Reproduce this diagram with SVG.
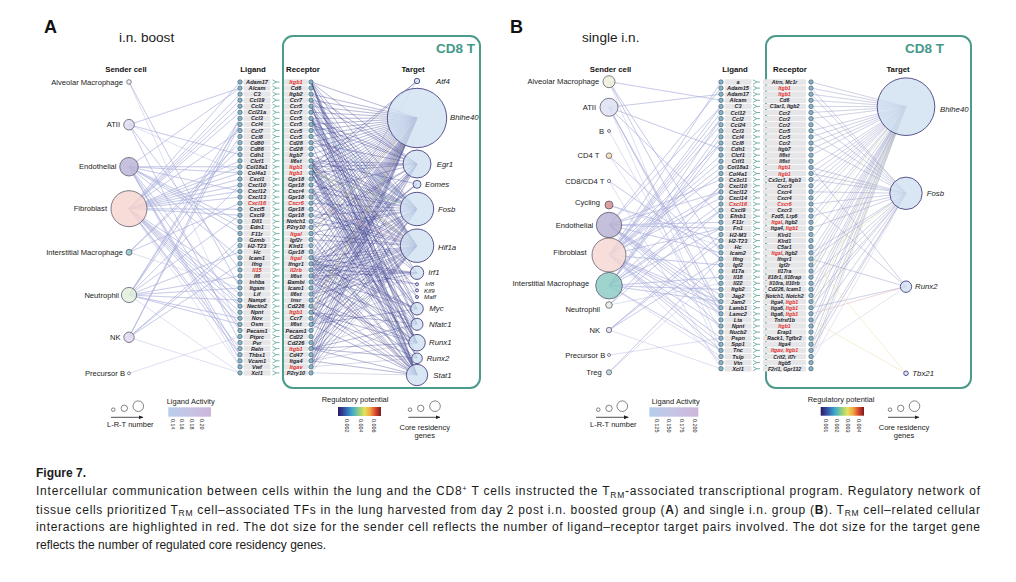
<svg xmlns="http://www.w3.org/2000/svg" xmlns:xlink="http://www.w3.org/1999/xlink" width="1016" height="582" viewBox="0 0 1016 582">
<style>
text{font-family:"Liberation Sans",Arial,sans-serif}
.sl{font-size:7.6px;fill:#222;text-anchor:end}
.hd{font-size:7.8px;font-weight:bold;fill:#111;text-anchor:middle}
.lg{font-size:5.6px;font-style:italic;font-weight:bold;fill:#1c1c2a;text-anchor:middle}
.rb{font-size:5.2px}
.r{fill:#e3302a}
.tg{font-size:7.8px;font-style:italic;fill:#222}
.ts{font-size:6.2px}
.sn{stroke:#4d4a5e;stroke-width:.7;fill-opacity:.85}
.tn{fill:#cfe0f1;fill-opacity:.8;stroke:#4a4480;stroke-width:.9}
.dot{fill:#87b4c9;stroke:#33505f;stroke-width:.6}
.band{fill:#e6e6e8}
.gl{fill:none;stroke:#3c9482;stroke-width:.7}
.box{fill:none;stroke:#4c9b8c;stroke-width:2}
.cd8{font-size:13.5px;font-weight:bold;fill:#44998a;text-anchor:end}
.ttl{font-size:13.6px;fill:#1a1a1a}
.pl{font-size:18px;font-weight:bold;fill:#111}
.lgd{font-size:7.5px;fill:#1a1a1a}
.tk{font-size:5.4px;fill:#222}
.lc{fill:none;stroke:#333;stroke-width:.6}
.se{fill:none;stroke:#a8addb;stroke-opacity:.55;stroke-width:.7;stroke-linejoin:round}
.ea{fill:none;stroke:#3e418f;stroke-opacity:.34;stroke-width:.6;stroke-linejoin:round}
.eb{fill:none;stroke:#9599c8;stroke-opacity:.42;stroke-width:.6;stroke-linejoin:round}
.cap{font-size:12px;fill:#1b1b1b}
</style>
<defs>
<linearGradient id="la" x1="0" x2="1" y1="0" y2="0"><stop offset="0" stop-color="#b7cdec"/><stop offset=".5" stop-color="#c6c4e4"/><stop offset="1" stop-color="#ccb6da"/></linearGradient>
<linearGradient id="rp" x1="0" x2="1" y1="0" y2="0"><stop offset="0" stop-color="#2a1a66"/><stop offset=".15" stop-color="#3553a5"/><stop offset=".32" stop-color="#3aa6cf"/><stop offset=".5" stop-color="#98d27c"/><stop offset=".62" stop-color="#e5e25a"/><stop offset=".75" stop-color="#f2a444"/><stop offset=".88" stop-color="#d8432c"/><stop offset="1" stop-color="#7b1a1e"/></linearGradient>
<marker id="ah" viewBox="0 0 6 5" refX="5.5" refY="2.5" markerWidth="5" markerHeight="4" markerUnits="userSpaceOnUse" orient="auto"><path d="M0 0L6 2.5L0 5z" fill="#222"/></marker>
<g id="ra">
<circle cx="240" cy="0" r="2.2" class="dot"/>
<rect x="243.5" y="-2.7" width="27" height="5.4" rx="1.2" class="band"/>
<path d="M272.5 -2.2L276.3 0L272.5 2.2M276.3 0H279.5" class="gl"/>
<rect x="284" y="-2.7" width="24" height="5.4" rx="1.2" class="band"/>
<circle cx="311" cy="0" r="2.2" class="dot"/>
</g>
<g id="rb">
<circle cx="721" cy="0" r="2.2" class="dot"/>
<rect x="724.5" y="-2.7" width="27" height="5.4" rx="1.2" class="band"/>
<path d="M753 -2.2L756.8 0L753 2.2M756.8 0H760" class="gl"/>
<rect x="763" y="-2.7" width="43" height="5.4" rx="1.2" class="band"/>
<circle cx="811" cy="0" r="2.2" class="dot"/>
</g>
</defs>
<rect width="1016" height="582" fill="#fff"/>

<!-- titles -->
<text class="pl" x="44" y="32.5">A</text>
<text class="ttl" x="119" y="41.5">i.n. boost</text>
<text class="pl" x="510" y="32.5">B</text>
<text class="ttl" x="582" y="41.5">single i.n.</text>

<!-- CD8 T boxes -->
<g id="boxA"><rect class="box" x="283" y="36" width="197" height="352" rx="10"/><text class="cd8" x="475" y="53">CD8 T</text></g>
<g id="boxB"><rect class="box" x="766" y="36" width="205" height="352" rx="10"/><text class="cd8" x="944" y="53">CD8 T</text></g>

<!-- headers -->
<text class="hd" x="126" y="72">Sender cell</text>
<text class="hd" x="253" y="72">Ligand</text>
<text class="hd" x="303" y="72">Receptor</text>
<text class="hd" x="413" y="72">Target</text>
<text class="hd" x="610.5" y="72">Sender cell</text>
<text class="hd" x="735" y="72">Ligand</text>
<text class="hd" x="790" y="72">Receptor</text>
<text class="hd" x="898" y="72">Target</text>

<!-- connectors -->
<g id="connectors">
<g id="a-sender-edges">
<path class="se" d="M129 82L240 288 129 82 240 330.5"/>
<path class="se" d="M129 124.7L240 88.1 129 124.7 240 154.7 129 124.7 240 269.9 129 124.7 240 342.6 129 124.7 240 172.9"/>
<path class="se" d="M129 166.7L240 88.1 129 166.7 240 166.8 129 166.7 240 172.9 129 166.7 240 191.1 129 166.7 240 221.4 129 166.7 240 227.4 129 166.7 240 233.5 129 166.7 240 257.7 129 166.7 240 306.2 129 166.7 240 330.5 129 166.7 240 354.7 129 166.7 240 360.8 129 166.7 240 366.8"/>
<path class="se" d="M129 208.7L240 82 129 208.7 240 94.1 129 208.7 240 100.2 129 208.7 240 106.2 129 208.7 240 112.3 129 208.7 240 130.5 129 208.7 240 160.8 129 208.7 240 166.8 129 208.7 240 172.9 129 208.7 240 179 129 208.7 240 185 129 208.7 240 191.1 129 208.7 240 197.1 129 208.7 240 209.3 129 208.7 240 215.3 129 208.7 240 282 129 208.7 240 294.1 129 208.7 240 300.2 129 208.7 240 306.2 129 208.7 240 312.3 129 208.7 240 318.3 129 208.7 240 324.4 129 208.7 240 348.6 129 208.7 240 354.7 129 208.7 240 366.8"/>
<path class="se" d="M129 252.3L240 142.6 129 252.3 240 148.7 129 252.3 240 203.2 129 252.3 240 288"/>
<path class="se" d="M129 295L240 118.4 129 295 240 124.4 129 295 240 136.5 129 295 240 185 129 295 240 215.3 129 295 240 251.7 129 295 240 275.9 129 295 240 288 129 295 240 300.2 129 295 240 318.3 129 295 240 324.4 129 295 240 372.9"/>
<path class="se" d="M129 337.3L240 118.4 129 337.3 240 124.4 129 337.3 240 239.6 129 337.3 240 245.6 129 337.3 240 263.8 129 337.3 240 372.9"/>
<path class="se" d="M129 373.3L240 336.5"/>
</g>
<g id="a-target-edges">
<path class="ea" d="M417 118L311 82 417 118 311 94.1 417 118 311 100.2 417 118 311 106.2 417 118 311 112.3 417 118 311 118.4 417 118 311 124.4 417 118 311 130.5 417 118 311 136.5 417 118 311 142.6 417 118 311 148.7 417 118 311 154.7 417 118 311 160.8 417 118 311 166.8 417 118 311 172.9 417 118 311 179 417 118 311 185 417 118 311 191.1 417 118 311 197.1 417 118 311 203.2 417 118 311 209.3 417 118 311 215.3 417 118 311 221.4 417 118 311 227.4 417 118 311 233.5 417 118 311 239.6 417 118 311 251.7 417 118 311 257.7 417 118 311 263.8 417 118 311 269.9 417 118 311 275.9 417 118 311 282 417 118 311 288 417 118 311 294.1 417 118 311 300.2 417 118 311 306.2 417 118 311 312.3 417 118 311 318.3 417 118 311 324.4 417 118 311 330.5 417 118 311 342.6 417 118 311 348.6 417 118 311 354.7 417 118 311 360.8 417 118 311 366.8 417 118 311 372.9"/>
<path class="ea" d="M417 246L311 82 417 246 311 94.1 417 246 311 100.2 417 246 311 106.2 417 246 311 118.4 417 246 311 124.4 417 246 311 136.5 417 246 311 142.6 417 246 311 160.8 417 246 311 166.8 417 246 311 172.9 417 246 311 179 417 246 311 191.1 417 246 311 197.1 417 246 311 209.3 417 246 311 215.3 417 246 311 221.4 417 246 311 233.5 417 246 311 239.6 417 246 311 257.7 417 246 311 263.8 417 246 311 269.9 417 246 311 275.9 417 246 311 282 417 246 311 294.1 417 246 311 300.2 417 246 311 306.2 417 246 311 312.3 417 246 311 324.4 417 246 311 330.5 417 246 311 342.6 417 246 311 348.6 417 246 311 354.7 417 246 311 360.8 417 246 311 366.8 417 246 311 372.9"/>
<path class="ea" d="M417 209L311 82 417 209 311 100.2 417 209 311 106.2 417 209 311 112.3 417 209 311 118.4 417 209 311 130.5 417 209 311 136.5 417 209 311 154.7 417 209 311 160.8 417 209 311 166.8 417 209 311 172.9 417 209 311 185 417 209 311 191.1 417 209 311 203.2 417 209 311 215.3 417 209 311 227.4 417 209 311 233.5 417 209 311 257.7 417 209 311 263.8 417 209 311 275.9 417 209 311 288 417 209 311 294.1 417 209 311 312.3 417 209 311 324.4 417 209 311 348.6 417 209 311 360.8 417 209 311 366.8"/>
<path class="ea" d="M417 164L311 82 417 164 311 94.1 417 164 311 100.2 417 164 311 118.4 417 164 311 124.4 417 164 311 142.6 417 164 311 160.8 417 164 311 166.8 417 164 311 172.9 417 164 311 191.1 417 164 311 221.4 417 164 311 227.4 417 164 311 257.7 417 164 311 275.9 417 164 311 282 417 164 311 294.1 417 164 311 300.2 417 164 311 312.3 417 164 311 324.4 417 164 311 348.6 417 164 311 360.8"/>
<path class="ea" d="M417 375L311 82 417 375 311 100.2 417 375 311 106.2 417 375 311 118.4 417 375 311 142.6 417 375 311 160.8 417 375 311 166.8 417 375 311 172.9 417 375 311 185 417 375 311 197.1 417 375 311 233.5 417 375 311 239.6 417 375 311 257.7 417 375 311 263.8 417 375 311 269.9 417 375 311 275.9 417 375 311 294.1 417 375 311 306.2 417 375 311 312.3 417 375 311 324.4 417 375 311 348.6 417 375 311 360.8 417 375 311 372.9"/>
<path class="ea" d="M417 343L311 82 417 343 311 106.2 417 343 311 118.4 417 343 311 124.4 417 343 311 160.8 417 343 311 166.8 417 343 311 172.9 417 343 311 191.1 417 343 311 227.4 417 343 311 257.7 417 343 311 263.8 417 343 311 275.9 417 343 311 300.2 417 343 311 312.3 417 343 311 348.6 417 343 311 360.8"/>
<path class="ea" d="M417 309L311 82 417 309 311 118.4 417 309 311 160.8 417 309 311 166.8 417 309 311 191.1 417 309 311 257.7 417 309 311 263.8 417 309 311 275.9 417 309 311 324.4 417 309 311 348.6"/>
<path class="ea" d="M417 324L311 82 417 324 311 106.2 417 324 311 166.8 417 324 311 172.9 417 324 311 221.4 417 324 311 257.7 417 324 311 282 417 324 311 312.3 417 324 311 348.6 417 324 311 360.8"/>
<path class="ea" d="M417 273L311 118.4 417 273 311 160.8 417 273 311 191.1 417 273 311 257.7 417 273 311 263.8 417 273 311 269.9 417 273 311 275.9 417 273 311 294.1 417 273 311 324.4"/>
<path class="ea" d="M417 358L311 82 417 358 311 166.8 417 358 311 172.9 417 358 311 282 417 358 311 312.3 417 358 311 348.6 417 358 311 366.8"/>
<path class="ea" d="M417 184L311 160.8 417 184 311 263.8 417 184 311 269.9 417 184 311 275.9"/>
<path class="ea" d="M417 81L311 166.8 417 81 311 172.9 417 81 311 257.7"/>
<path class="ea" d="M417 284L311 263.8 417 284 311 275.9"/>
<path class="ea" d="M417 290L311 160.8 417 290 311 324.4"/>
<path class="ea" d="M417 297L311 118.4 417 297 311 191.1"/>
<path d="M311 233.5L417 118M311 312.3L417 118M311 166.8L417 246" fill="none" stroke="#e6d25a" stroke-opacity=".6" stroke-width=".6"/>
<path d="M311 172.9L417 209M311 257.7L417 343" fill="none" stroke="#9fd08a" stroke-opacity=".6" stroke-width=".6"/>
<path d="M311 203.2L417 246M311 269.9L417 375" fill="none" stroke="#e49aa6" stroke-opacity=".6" stroke-width=".6"/>
<path d="M311 124.4L417 209" fill="none" stroke="#6cc3d5" stroke-opacity=".6" stroke-width=".6"/>
</g>
<g id="b-sender-edges">
<path class="se" d="M609 81.7L721 100.3 609 81.7 721 252.8 609 81.7 721 289.4 609 81.7 721 350.4"/>
<path class="se" d="M609 107.3L721 94.2 609 107.3 721 149.1 609 107.3 721 216.2 609 107.3 721 307.7 609 107.3 721 313.8 609 107.3 721 356.5"/>
<path class="se" d="M609 131L721 332.1"/>
<path class="se" d="M609 155.7L721 258.9 609 155.7 721 319.9"/>
<path class="se" d="M609 181L721 258.9 609 181 721 368.7"/>
<path class="se" d="M609 205L721 240.6 609 205 721 246.7"/>
<path class="se" d="M609 225L721 88.1 609 225 721 106.4 609 225 721 179.6 609 225 721 191.8 609 225 721 222.3 609 225 721 228.4 609 225 721 252.8 609 225 721 295.5 609 225 721 301.6 609 225 721 307.7 609 225 721 313.8 609 225 721 326 609 225 721 362.6"/>
<path class="se" d="M609 255L721 82 609 255 721 106.4 609 255 721 112.5 609 255 721 118.6 609 255 721 124.7 609 255 721 143 609 255 721 155.2 609 255 721 161.3 609 255 721 167.4 609 255 721 173.5 609 255 721 191.8 609 255 721 197.9 609 255 721 228.4 609 255 721 265 609 255 721 301.6 609 255 721 307.7 609 255 721 313.8 609 255 721 326 609 255 721 338.2 609 255 721 344.3 609 255 721 350.4 609 255 721 362.6"/>
<path class="se" d="M609 285.7L721 118.6 609 285.7 721 130.8 609 285.7 721 136.9 609 285.7 721 143 609 285.7 721 185.7 609 285.7 721 204 609 285.7 721 210.1 609 285.7 721 228.4 609 285.7 721 277.2 609 285.7 721 289.4 609 285.7 721 301.6 609 285.7 721 350.4 609 285.7 721 356.5"/>
<path class="se" d="M609 305L721 185.7 609 305 721 210.1 609 305 721 283.3"/>
<path class="se" d="M609 330L721 234.5 609 330 721 240.6 609 330 721 258.9 609 330 721 368.7"/>
<path class="se" d="M609 355L721 338.2"/>
<path class="se" d="M609 372.3L721 258.9 609 372.3 721 271.1"/>
</g>
<g id="b-target-edges">
<path class="eb" d="M906 106.7L811 82 906 106.7 811 88.1 906 106.7 811 94.2 906 106.7 811 100.3 906 106.7 811 106.4 906 106.7 811 112.5 906 106.7 811 118.6 906 106.7 811 130.8 906 106.7 811 136.9 906 106.7 811 143 906 106.7 811 149.1 906 106.7 811 155.2 906 106.7 811 167.4 906 106.7 811 173.5 906 106.7 811 179.6 906 106.7 811 185.7 906 106.7 811 191.8 906 106.7 811 197.9 906 106.7 811 204 906 106.7 811 216.2 906 106.7 811 222.3 906 106.7 811 240.6 906 106.7 811 252.8 906 106.7 811 258.9 906 106.7 811 265 906 106.7 811 271.1 906 106.7 811 277.2 906 106.7 811 289.4 906 106.7 811 295.5 906 106.7 811 301.6 906 106.7 811 313.8 906 106.7 811 326 906 106.7 811 332.1 906 106.7 811 344.3 906 106.7 811 356.5 906 106.7 811 362.6"/>
<path class="eb" d="M906 193.3L811 88.1 906 193.3 811 94.2 906 193.3 811 106.4 906 193.3 811 118.6 906 193.3 811 130.8 906 193.3 811 143 906 193.3 811 167.4 906 193.3 811 173.5 906 193.3 811 179.6 906 193.3 811 191.8 906 193.3 811 204 906 193.3 811 216.2 906 193.3 811 228.4 906 193.3 811 252.8 906 193.3 811 258.9 906 193.3 811 277.2 906 193.3 811 289.4 906 193.3 811 301.6 906 193.3 811 307.7 906 193.3 811 326 906 193.3 811 344.3 906 193.3 811 350.4 906 193.3 811 362.6"/>
<path class="eb" d="M906 286.7L811 167.4 906 286.7 811 204 906 286.7 811 258.9 906 286.7 811 307.7 906 286.7 811 350.4"/>
<path d="M811 228.4L906 106.7M811 307.7L906 106.7M811 350.4L906 106.7M811 265L906 193.3" fill="none" stroke="#cfe08a" stroke-opacity=".6" stroke-width=".6"/>
<path d="M811 313.8L906 286.7" fill="none" stroke="#d7a3ad" stroke-opacity=".7" stroke-width=".6"/>
<path d="M811 258.9L906 373.3M811 319.9L906 373.3" fill="none" stroke="#ecd59a" stroke-opacity=".7" stroke-width=".6"/>
</g>
</g>

<!-- panel A sender nodes -->
<g id="a-s-alvmac"><circle class="sn" cx="129" cy="82" r="2.3" fill="#f2f2f2"/><text class="sl" x="123" y="84.6">Alveolar Macrophage</text></g>
<g id="a-s-atii"><circle class="sn" cx="129" cy="124.7" r="5.3" fill="#dcdcef"/><text class="sl" x="120" y="127.3">ATII</text></g>
<g id="a-s-endo"><circle class="sn" cx="129" cy="166.7" r="9.3" fill="#bcb6d6"/><text class="sl" x="116.5" y="169.3">Endothelial</text></g>
<g id="a-s-fib"><circle class="sn" cx="129" cy="208.7" r="18" fill="#f6d6d1"/><text class="sl" x="107" y="211.3">Fibroblast</text></g>
<g id="a-s-intmac"><circle class="sn" cx="129" cy="252.3" r="3" fill="#93c9c6"/><text class="sl" x="123" y="254.9">Interstitial Macrophage</text></g>
<g id="a-s-neut"><circle class="sn" cx="129" cy="295" r="7.6" fill="#e3efdc"/><text class="sl" x="119" y="297.6">Neutrophil</text></g>
<g id="a-s-nk"><circle class="sn" cx="129" cy="337.3" r="5.2" fill="#e3dbef"/><text class="sl" x="120.5" y="339.9">NK</text></g>
<g id="a-s-preb"><circle class="sn" cx="129" cy="373.3" r="1.5" fill="#fff"/><text class="sl" x="125" y="375.9">Precursor B</text></g>

<!-- panel A ligand-receptor rows -->
<g id="a-rows">
<g id="a0" transform="translate(0 82)"><use href="#ra"/><text class="lg" x="257" y="2">Adam17</text><text class="lg r" x="296" y="2">Itgb1</text></g>
<g id="a1" transform="translate(0 88.1)"><use href="#ra"/><text class="lg" x="257" y="2">Alcam</text><text class="lg" x="296" y="2">Cd6</text></g>
<g id="a2" transform="translate(0 94.1)"><use href="#ra"/><text class="lg" x="257" y="2">C3</text><text class="lg" x="296" y="2">Itgb2</text></g>
<g id="a3" transform="translate(0 100.2)"><use href="#ra"/><text class="lg" x="257" y="2">Ccl19</text><text class="lg" x="296" y="2">Ccr7</text></g>
<g id="a4" transform="translate(0 106.2)"><use href="#ra"/><text class="lg" x="257" y="2">Ccl2</text><text class="lg" x="296" y="2">Ccr5</text></g>
<g id="a5" transform="translate(0 112.3)"><use href="#ra"/><text class="lg" x="257" y="2">Ccl21a</text><text class="lg" x="296" y="2">Ccr7</text></g>
<g id="a6" transform="translate(0 118.4)"><use href="#ra"/><text class="lg" x="257" y="2">Ccl3</text><text class="lg" x="296" y="2">Ccr5</text></g>
<g id="a7" transform="translate(0 124.4)"><use href="#ra"/><text class="lg" x="257" y="2">Ccl4</text><text class="lg" x="296" y="2">Ccr5</text></g>
<g id="a8" transform="translate(0 130.5)"><use href="#ra"/><text class="lg" x="257" y="2">Ccl7</text><text class="lg" x="296" y="2">Ccr5</text></g>
<g id="a9" transform="translate(0 136.5)"><use href="#ra"/><text class="lg" x="257" y="2">Ccl8</text><text class="lg" x="296" y="2">Ccr5</text></g>
<g id="a10" transform="translate(0 142.6)"><use href="#ra"/><text class="lg" x="257" y="2">Cd80</text><text class="lg" x="296" y="2">Cd28</text></g>
<g id="a11" transform="translate(0 148.7)"><use href="#ra"/><text class="lg" x="257" y="2">Cd86</text><text class="lg" x="296" y="2">Cd28</text></g>
<g id="a12" transform="translate(0 154.7)"><use href="#ra"/><text class="lg" x="257" y="2">Cdh1</text><text class="lg" x="296" y="2">Itgb7</text></g>
<g id="a13" transform="translate(0 160.8)"><use href="#ra"/><text class="lg" x="257" y="2">Clcf1</text><text class="lg" x="296" y="2">Il6st</text></g>
<g id="a14" transform="translate(0 166.8)"><use href="#ra"/><text class="lg" x="257" y="2">Col18a1</text><text class="lg r" x="296" y="2">Itgb1</text></g>
<g id="a15" transform="translate(0 172.9)"><use href="#ra"/><text class="lg" x="257" y="2">Col4a1</text><text class="lg r" x="296" y="2">Itgb1</text></g>
<g id="a16" transform="translate(0 179)"><use href="#ra"/><text class="lg" x="257" y="2">Cxcl1</text><text class="lg" x="296" y="2">Gpr18</text></g>
<g id="a17" transform="translate(0 185)"><use href="#ra"/><text class="lg" x="257" y="2">Cxcl10</text><text class="lg" x="296" y="2">Gpr18</text></g>
<g id="a18" transform="translate(0 191.1)"><use href="#ra"/><text class="lg" x="257" y="2">Cxcl12</text><text class="lg" x="296" y="2">Cxcr4</text></g>
<g id="a19" transform="translate(0 197.1)"><use href="#ra"/><text class="lg" x="257" y="2">Cxcl13</text><text class="lg" x="296" y="2">Gpr18</text></g>
<g id="a20" transform="translate(0 203.2)"><use href="#ra"/><text class="lg r" x="257" y="2">Cxcl16</text><text class="lg r" x="296" y="2">Cxcr6</text></g>
<g id="a21" transform="translate(0 209.3)"><use href="#ra"/><text class="lg" x="257" y="2">Cxcl5</text><text class="lg" x="296" y="2">Gpr18</text></g>
<g id="a22" transform="translate(0 215.3)"><use href="#ra"/><text class="lg" x="257" y="2">Cxcl9</text><text class="lg" x="296" y="2">Gpr18</text></g>
<g id="a23" transform="translate(0 221.4)"><use href="#ra"/><text class="lg" x="257" y="2">Dll1</text><text class="lg" x="296" y="2">Notch1</text></g>
<g id="a24" transform="translate(0 227.4)"><use href="#ra"/><text class="lg" x="257" y="2">Edn1</text><text class="lg" x="296" y="2">P2ry10</text></g>
<g id="a25" transform="translate(0 233.5)"><use href="#ra"/><text class="lg" x="257" y="2">F11r</text><text class="lg r" x="296" y="2">Itgal</text></g>
<g id="a26" transform="translate(0 239.6)"><use href="#ra"/><text class="lg" x="257" y="2">Gzmb</text><text class="lg" x="296" y="2">Igf2r</text></g>
<g id="a27" transform="translate(0 245.6)"><use href="#ra"/><text class="lg" x="257" y="2">H2-T23</text><text class="lg" x="296" y="2">Klrd1</text></g>
<g id="a28" transform="translate(0 251.7)"><use href="#ra"/><text class="lg" x="257" y="2">Hc</text><text class="lg" x="296" y="2">Gpr18</text></g>
<g id="a29" transform="translate(0 257.7)"><use href="#ra"/><text class="lg" x="257" y="2">Icam1</text><text class="lg r" x="296" y="2">Itgal</text></g>
<g id="a30" transform="translate(0 263.8)"><use href="#ra"/><text class="lg" x="257" y="2">Ifng</text><text class="lg" x="296" y="2">Ifngr1</text></g>
<g id="a31" transform="translate(0 269.9)"><use href="#ra"/><text class="lg r" x="257" y="2">Il15</text><text class="lg r" x="296" y="2">Il2rb</text></g>
<g id="a32" transform="translate(0 275.9)"><use href="#ra"/><text class="lg" x="257" y="2">Il6</text><text class="lg" x="296" y="2">Il6st</text></g>
<g id="a33" transform="translate(0 282)"><use href="#ra"/><text class="lg" x="257" y="2">Inhba</text><text class="lg" x="296" y="2">Bambi</text></g>
<g id="a34" transform="translate(0 288)"><use href="#ra"/><text class="lg" x="257" y="2">Itgam</text><text class="lg" x="296" y="2">Icam1</text></g>
<g id="a35" transform="translate(0 294.1)"><use href="#ra"/><text class="lg" x="257" y="2">Lif</text><text class="lg" x="296" y="2">Il6st</text></g>
<g id="a36" transform="translate(0 300.2)"><use href="#ra"/><text class="lg" x="257" y="2">Nampt</text><text class="lg" x="296" y="2">Insr</text></g>
<g id="a37" transform="translate(0 306.2)"><use href="#ra"/><text class="lg" x="257" y="2">Nectin2</text><text class="lg" x="296" y="2">Cd226</text></g>
<g id="a38" transform="translate(0 312.3)"><use href="#ra"/><text class="lg" x="257" y="2">Npnt</text><text class="lg r" x="296" y="2">Itgb1</text></g>
<g id="a39" transform="translate(0 318.3)"><use href="#ra"/><text class="lg" x="257" y="2">Nov</text><text class="lg" x="296" y="2">Ccr7</text></g>
<g id="a40" transform="translate(0 324.4)"><use href="#ra"/><text class="lg" x="257" y="2">Osm</text><text class="lg" x="296" y="2">Il6st</text></g>
<g id="a41" transform="translate(0 330.5)"><use href="#ra"/><text class="lg" x="257" y="2">Pecam1</text><text class="lg" x="296" y="2">Pecam1</text></g>
<g id="a42" transform="translate(0 336.5)"><use href="#ra"/><text class="lg" x="257" y="2">Ptprc</text><text class="lg" x="296" y="2">Cd22</text></g>
<g id="a43" transform="translate(0 342.6)"><use href="#ra"/><text class="lg" x="257" y="2">Pvr</text><text class="lg" x="296" y="2">Cd226</text></g>
<g id="a44" transform="translate(0 348.6)"><use href="#ra"/><text class="lg" x="257" y="2">Reln</text><text class="lg r" x="296" y="2">Itgb1</text></g>
<g id="a45" transform="translate(0 354.7)"><use href="#ra"/><text class="lg" x="257" y="2">Thbs1</text><text class="lg" x="296" y="2">Cd47</text></g>
<g id="a46" transform="translate(0 360.8)"><use href="#ra"/><text class="lg" x="257" y="2">Vcam1</text><text class="lg" x="296" y="2">Itga4</text></g>
<g id="a47" transform="translate(0 366.8)"><use href="#ra"/><text class="lg" x="257" y="2">Vwf</text><text class="lg r" x="296" y="2">Itgav</text></g>
<g id="a48" transform="translate(0 372.9)"><use href="#ra"/><text class="lg" x="257" y="2">Xcl1</text><text class="lg" x="296" y="2">P2ry10</text></g>
</g>

<!-- panel A targets -->
<g id="a-t-atf4"><circle class="tn" cx="417" cy="81" r="2.7"/><text class="tg" x="436" y="83.7">Atf4</text></g>
<g id="a-t-bhlhe40"><circle class="tn" cx="417" cy="118" r="29.7"/><text class="tg" x="450" y="120">Bhlhe40</text></g>
<g id="a-t-egr1"><circle class="tn" cx="417" cy="164" r="14"/><text class="tg" x="436.7" y="166.5">Egr1</text></g>
<g id="a-t-eomes"><circle class="tn" cx="417" cy="184.3" r="4"/><text class="tg" x="425" y="187">Eomes</text></g>
<g id="a-t-fosb"><circle class="tn" cx="417" cy="209" r="16.7"/><text class="tg" x="438" y="211.7">Fosb</text></g>
<g id="a-t-hif1a"><circle class="tn" cx="417" cy="245.7" r="16.7"/><text class="tg" x="438" y="249.5">Hif1a</text></g>
<g id="a-t-irf1"><circle class="tn" cx="417" cy="272.7" r="6.7"/><text class="tg" x="428.3" y="275.4">Irf1</text></g>
<g id="a-t-irf8"><circle class="tn" cx="417" cy="284.3" r="1.5"/><text class="tg ts" x="425.3" y="286.3">Irf8</text></g>
<g id="a-t-klf9"><circle class="tn" cx="417" cy="290.4" r="1.5"/><text class="tg ts" x="424" y="292.6">Klf9</text></g>
<g id="a-t-maff"><circle class="tn" cx="417" cy="297" r="1.5"/><text class="tg ts" x="424" y="299.2">Maff</text></g>
<g id="a-t-myc"><circle class="tn" cx="417" cy="308.7" r="6.3"/><text class="tg" x="429.3" y="311.4">Myc</text></g>
<g id="a-t-nfatc1"><circle class="tn" cx="417" cy="324.3" r="6"/><text class="tg" x="429" y="327">Nfatc1</text></g>
<g id="a-t-runx1"><circle class="tn" cx="417" cy="342.7" r="8.3"/><text class="tg" x="429" y="345.4">Runx1</text></g>
<g id="a-t-runx2"><circle class="tn" cx="417" cy="358.3" r="5.3"/><text class="tg" x="426.7" y="361">Runx2</text></g>
<g id="a-t-stat1"><circle class="tn" cx="417" cy="375" r="10.7"/><text class="tg" x="433.3" y="377.7">Stat1</text></g>

<!-- panel B sender nodes -->
<g id="b-s-alvmac"><circle class="sn" cx="609" cy="81.7" r="6" fill="#eef0da"/><text class="sl" x="599.3" y="84.3">Alveolar Macrophage</text></g>
<g id="b-s-atii"><circle class="sn" cx="609" cy="107.3" r="9" fill="#dde1f1"/><text class="sl" x="596" y="109.9">ATII</text></g>
<g id="b-s-b"><circle class="sn" cx="609" cy="131" r="1.5" fill="#eee"/><text class="sl" x="604" y="133.6">B</text></g>
<g id="b-s-cd4t"><circle class="sn" cx="609" cy="155.7" r="2.8" fill="#f6e0ae"/><text class="sl" x="599.3" y="158.3">CD4 T</text></g>
<g id="b-s-cd8cd4t"><circle class="sn" cx="609" cy="181" r="1.6" fill="#fff"/><text class="sl" x="604.3" y="183.6">CD8/CD4 T</text></g>
<g id="b-s-cycling"><circle class="sn" cx="609" cy="205" r="4" fill="#d88f8f"/><text class="sl" x="600" y="204.6">Cycling</text></g>
<g id="b-s-endo"><circle class="sn" cx="609" cy="225" r="12.7" fill="#bab4d5"/><text class="sl" x="593.3" y="227.6">Endothelial</text></g>
<g id="b-s-fib"><circle class="sn" cx="609" cy="255" r="17" fill="#f6d8d3"/><text class="sl" x="586.7" y="255.3">Fibroblast</text></g>
<g id="b-s-intmac"><circle class="sn" cx="609" cy="285.7" r="13.3" fill="#8dcbc6"/><text class="sl" x="589.3" y="286">Interstitial Macrophage</text></g>
<g id="b-s-neut"><circle class="sn" cx="609" cy="305" r="3.3" fill="#e2efdb"/><text class="sl" x="600" y="311.6">Neutrophil</text></g>
<g id="b-s-nk"><circle class="sn" cx="609" cy="330" r="2.7" fill="#e5def0"/><text class="sl" x="600" y="332.6">NK</text></g>
<g id="b-s-preb"><circle class="sn" cx="609" cy="355" r="1.5" fill="#fff"/><text class="sl" x="605.3" y="357.6">Precursor B</text></g>
<g id="b-s-treg"><circle class="sn" cx="609" cy="372.3" r="2.6" fill="#b9d8d6"/><text class="sl" x="601.7" y="374.9">Treg</text></g>

<!-- panel B ligand-receptor rows -->
<g id="b-rows">
<g id="b0" transform="translate(0 82)"><use href="#rb"/><text class="lg" x="738" y="2">a</text><text class="lg rb" x="784.5" y="2">Atrn, Mc1r</text></g>
<g id="b1" transform="translate(0 88.1)"><use href="#rb"/><text class="lg" x="738" y="2">Adam15</text><text class="lg rb r" x="784.5" y="2">Itgb1</text></g>
<g id="b2" transform="translate(0 94.2)"><use href="#rb"/><text class="lg" x="738" y="2">Adam17</text><text class="lg rb r" x="784.5" y="2">Itgb1</text></g>
<g id="b3" transform="translate(0 100.3)"><use href="#rb"/><text class="lg" x="738" y="2">Alcam</text><text class="lg rb" x="784.5" y="2">Cd6</text></g>
<g id="b4" transform="translate(0 106.4)"><use href="#rb"/><text class="lg" x="738" y="2">C3</text><text class="lg rb" x="784.5" y="2">C3ar1, Itgb2</text></g>
<g id="b5" transform="translate(0 112.5)"><use href="#rb"/><text class="lg" x="738" y="2">Ccl12</text><text class="lg rb" x="784.5" y="2">Ccr2</text></g>
<g id="b6" transform="translate(0 118.6)"><use href="#rb"/><text class="lg" x="738" y="2">Ccl2</text><text class="lg rb" x="784.5" y="2">Ccr2</text></g>
<g id="b7" transform="translate(0 124.7)"><use href="#rb"/><text class="lg" x="738" y="2">Ccl24</text><text class="lg rb" x="784.5" y="2">Ccr2</text></g>
<g id="b8" transform="translate(0 130.8)"><use href="#rb"/><text class="lg" x="738" y="2">Ccl3</text><text class="lg rb" x="784.5" y="2">Ccr5</text></g>
<g id="b9" transform="translate(0 136.9)"><use href="#rb"/><text class="lg" x="738" y="2">Ccl4</text><text class="lg rb" x="784.5" y="2">Ccr5</text></g>
<g id="b10" transform="translate(0 143)"><use href="#rb"/><text class="lg" x="738" y="2">Ccl8</text><text class="lg rb" x="784.5" y="2">Ccr2</text></g>
<g id="b11" transform="translate(0 149.1)"><use href="#rb"/><text class="lg" x="738" y="2">Cdh1</text><text class="lg rb" x="784.5" y="2">Itgb7</text></g>
<g id="b12" transform="translate(0 155.2)"><use href="#rb"/><text class="lg" x="738" y="2">Clcf1</text><text class="lg rb" x="784.5" y="2">Il6st</text></g>
<g id="b13" transform="translate(0 161.3)"><use href="#rb"/><text class="lg" x="738" y="2">Crlf1</text><text class="lg rb" x="784.5" y="2">Il6st</text></g>
<g id="b14" transform="translate(0 167.4)"><use href="#rb"/><text class="lg" x="738" y="2">Col18a1</text><text class="lg rb r" x="784.5" y="2">Itgb1</text></g>
<g id="b15" transform="translate(0 173.5)"><use href="#rb"/><text class="lg" x="738" y="2">Col4a1</text><text class="lg rb r" x="784.5" y="2">Itgb1</text></g>
<g id="b16" transform="translate(0 179.6)"><use href="#rb"/><text class="lg" x="738" y="2">Cx3cl1</text><text class="lg rb" x="784.5" y="2">Cx3cr1, Itgb3</text></g>
<g id="b17" transform="translate(0 185.7)"><use href="#rb"/><text class="lg" x="738" y="2">Cxcl10</text><text class="lg rb" x="784.5" y="2">Cxcr3</text></g>
<g id="b18" transform="translate(0 191.8)"><use href="#rb"/><text class="lg" x="738" y="2">Cxcl12</text><text class="lg rb" x="784.5" y="2">Cxcr4</text></g>
<g id="b19" transform="translate(0 197.9)"><use href="#rb"/><text class="lg" x="738" y="2">Cxcl14</text><text class="lg rb" x="784.5" y="2">Cxcr4</text></g>
<g id="b20" transform="translate(0 204)"><use href="#rb"/><text class="lg r" x="738" y="2">Cxcl16</text><text class="lg rb r" x="784.5" y="2">Cxcr6</text></g>
<g id="b21" transform="translate(0 210.1)"><use href="#rb"/><text class="lg" x="738" y="2">Cxcl9</text><text class="lg rb" x="784.5" y="2">Cxcr3</text></g>
<g id="b22" transform="translate(0 216.2)"><use href="#rb"/><text class="lg" x="738" y="2">Efnb1</text><text class="lg rb" x="784.5" y="2">Fzd5, Lrp6</text></g>
<g id="b23" transform="translate(0 222.3)"><use href="#rb"/><text class="lg" x="738" y="2">F11r</text><text class="lg rb" x="784.5" y="2"><tspan class="r">Itgal</tspan>, Itgb2</text></g>
<g id="b24" transform="translate(0 228.4)"><use href="#rb"/><text class="lg" x="738" y="2">Fn1</text><text class="lg rb" x="784.5" y="2">Itga4, <tspan class="r">Itgb1</tspan></text></g>
<g id="b25" transform="translate(0 234.5)"><use href="#rb"/><text class="lg" x="738" y="2">H2-M3</text><text class="lg rb" x="784.5" y="2">Klrd1</text></g>
<g id="b26" transform="translate(0 240.6)"><use href="#rb"/><text class="lg" x="738" y="2">H2-T23</text><text class="lg rb" x="784.5" y="2">Klrd1</text></g>
<g id="b27" transform="translate(0 246.7)"><use href="#rb"/><text class="lg" x="738" y="2">Hc</text><text class="lg rb" x="784.5" y="2">C5ar1</text></g>
<g id="b28" transform="translate(0 252.8)"><use href="#rb"/><text class="lg" x="738" y="2">Icam2</text><text class="lg rb" x="784.5" y="2"><tspan class="r">Itgal</tspan>, Itgb2</text></g>
<g id="b29" transform="translate(0 258.9)"><use href="#rb"/><text class="lg" x="738" y="2">Ifng</text><text class="lg rb" x="784.5" y="2">Ifngr1</text></g>
<g id="b30" transform="translate(0 265)"><use href="#rb"/><text class="lg" x="738" y="2">Igf2</text><text class="lg rb" x="784.5" y="2">Igf2r</text></g>
<g id="b31" transform="translate(0 271.1)"><use href="#rb"/><text class="lg" x="738" y="2">Il17a</text><text class="lg rb" x="784.5" y="2">Il17ra</text></g>
<g id="b32" transform="translate(0 277.2)"><use href="#rb"/><text class="lg" x="738" y="2">Il18</text><text class="lg rb" x="784.5" y="2">Il18r1, Il18rap</text></g>
<g id="b33" transform="translate(0 283.3)"><use href="#rb"/><text class="lg" x="738" y="2">Il22</text><text class="lg rb" x="784.5" y="2">Il10ra, Il10rb</text></g>
<g id="b34" transform="translate(0 289.4)"><use href="#rb"/><text class="lg" x="738" y="2">Itgb2</text><text class="lg rb" x="784.5" y="2">Cd226, Icam1</text></g>
<g id="b35" transform="translate(0 295.5)"><use href="#rb"/><text class="lg" x="738" y="2">Jag2</text><text class="lg rb" x="784.5" y="2">Notch1, Notch2</text></g>
<g id="b36" transform="translate(0 301.6)"><use href="#rb"/><text class="lg" x="738" y="2">Jam2</text><text class="lg rb" x="784.5" y="2">Itga4, <tspan class="r">Itgb1</tspan></text></g>
<g id="b37" transform="translate(0 307.7)"><use href="#rb"/><text class="lg" x="738" y="2">Lamb1</text><text class="lg rb" x="784.5" y="2">Itga6, <tspan class="r">Itgb1</tspan></text></g>
<g id="b38" transform="translate(0 313.8)"><use href="#rb"/><text class="lg" x="738" y="2">Lamc2</text><text class="lg rb" x="784.5" y="2">Itga6, <tspan class="r">Itgb1</tspan></text></g>
<g id="b39" transform="translate(0 319.9)"><use href="#rb"/><text class="lg" x="738" y="2">Lta</text><text class="lg rb" x="784.5" y="2">Tnfrsf1b</text></g>
<g id="b40" transform="translate(0 326)"><use href="#rb"/><text class="lg" x="738" y="2">Npnt</text><text class="lg rb r" x="784.5" y="2">Itgb1</text></g>
<g id="b41" transform="translate(0 332.1)"><use href="#rb"/><text class="lg" x="738" y="2">Nucb2</text><text class="lg rb" x="784.5" y="2">Erap1</text></g>
<g id="b42" transform="translate(0 338.2)"><use href="#rb"/><text class="lg" x="738" y="2">Pspn</text><text class="lg rb" x="784.5" y="2">Rack1, Tgfbr2</text></g>
<g id="b43" transform="translate(0 344.3)"><use href="#rb"/><text class="lg" x="738" y="2">Spp1</text><text class="lg rb" x="784.5" y="2">Itga4</text></g>
<g id="b44" transform="translate(0 350.4)"><use href="#rb"/><text class="lg" x="738" y="2">Tnc</text><text class="lg rb r" x="784.5" y="2">Itgav, Itgb1</text></g>
<g id="b45" transform="translate(0 356.5)"><use href="#rb"/><text class="lg" x="738" y="2">Tslp</text><text class="lg rb" x="784.5" y="2">Crlf2, Il7r</text></g>
<g id="b46" transform="translate(0 362.6)"><use href="#rb"/><text class="lg" x="738" y="2">Vtn</text><text class="lg rb" x="784.5" y="2">Itgb5</text></g>
<g id="b47" transform="translate(0 368.7)"><use href="#rb"/><text class="lg" x="738" y="2">Xcl1</text><text class="lg rb" x="784.5" y="2">F2rl1, Gpr132</text></g>
</g>

<!-- panel B targets -->
<g id="b-t-bhlhe40"><circle class="tn" cx="906" cy="106.7" r="28.8"/><text class="tg" x="940" y="112">Bhlhe40</text></g>
<g id="b-t-fosb"><circle class="tn" cx="906" cy="193.3" r="16.2"/><text class="tg" x="926.7" y="196">Fosb</text></g>
<g id="b-t-runx2"><circle class="tn" cx="906" cy="286.7" r="5.7"/><text class="tg" x="915" y="289.4">Runx2</text></g>
<g id="b-t-tbx21"><circle class="tn" cx="906" cy="373.3" r="2.3"/><text class="tg" x="912.3" y="376">Tbx21</text></g>

<!-- legends A -->
<g id="a-legend">
<circle class="lc" cx="113.3" cy="409.7" r="1.8"/><circle class="lc" cx="124.3" cy="408.3" r="3.2"/><circle class="lc" cx="138.3" cy="406.2" r="5.3"/>
<line x1="111" y1="417.3" x2="143" y2="417.3" stroke="#222" stroke-width=".8" marker-end="url(#ah)"/>
<text class="lgd" x="130.3" y="427" text-anchor="middle">L-R-T number</text>
<text class="lgd" x="166.7" y="403.7" fill="#2c3870">Ligand Activity</text>
<rect x="168.3" y="407.3" width="42.7" height="9.4" fill="url(#la)"/>
<text class="tk" transform="translate(170.7 419) rotate(90)">0.14</text>
<text class="tk" transform="translate(180.3 419) rotate(90)">0.16</text>
<text class="tk" transform="translate(190 419) rotate(90)">0.18</text>
<text class="tk" transform="translate(200 419) rotate(90)">0.20</text>
<text class="lgd" x="321.7" y="402.4">Regulatory potential</text>
<rect x="338" y="407" width="43" height="9" fill="url(#rp)"/>
<text class="tk" transform="translate(345 419) rotate(90)">0.002</text>
<text class="tk" transform="translate(358.7 419) rotate(90)">0.004</text>
<text class="tk" transform="translate(372 419) rotate(90)">0.006</text>
<circle class="lc" cx="410" cy="409.7" r="1.8"/><circle class="lc" cx="420.7" cy="408.3" r="3.2"/><circle class="lc" cx="435" cy="406.2" r="5.3"/>
<line x1="408.3" y1="417.3" x2="440" y2="417.3" stroke="#222" stroke-width=".8" marker-end="url(#ah)"/>
<text class="lgd" x="424.7" y="430" text-anchor="middle">Core residency</text>
<text class="lgd" x="424.7" y="437.7" text-anchor="middle">genes</text>
</g>

<!-- legends B -->
<g id="b-legend">
<circle class="lc" cx="598.3" cy="409.7" r="1.8"/><circle class="lc" cx="609" cy="408.3" r="3.2"/><circle class="lc" cx="622.3" cy="406.2" r="5.3"/>
<line x1="596" y1="417.3" x2="628.3" y2="417.3" stroke="#222" stroke-width=".8" marker-end="url(#ah)"/>
<text class="lgd" x="613.3" y="427" text-anchor="middle">L-R-T number</text>
<text class="lgd" x="651.7" y="403.7" fill="#2c3870">Ligand Activity</text>
<rect x="649.3" y="407.3" width="49" height="9.4" fill="url(#la)"/>
<text class="tk" transform="translate(654.7 419) rotate(90)">0.125</text>
<text class="tk" transform="translate(667.3 419) rotate(90)">0.150</text>
<text class="tk" transform="translate(680.3 419) rotate(90)">0.175</text>
<text class="tk" transform="translate(693 419) rotate(90)">0.200</text>
<text class="lgd" x="807.7" y="402.4">Regulatory potential</text>
<rect x="820.7" y="407" width="43.3" height="8.7" fill="url(#rp)"/>
<text class="tk" transform="translate(824 419) rotate(90)">0.001</text>
<text class="tk" transform="translate(834.7 419) rotate(90)">0.002</text>
<text class="tk" transform="translate(845.7 419) rotate(90)">0.003</text>
<text class="tk" transform="translate(856.7 419) rotate(90)">0.004</text>
<circle class="lc" cx="890" cy="409.7" r="1.8"/><circle class="lc" cx="900.7" cy="408.3" r="3.2"/><circle class="lc" cx="914.5" cy="406.2" r="5.3"/>
<line x1="888" y1="417.3" x2="919" y2="417.3" stroke="#222" stroke-width=".8" marker-end="url(#ah)"/>
<text class="lgd" x="904" y="430" text-anchor="middle">Core residency</text>
<text class="lgd" x="904" y="437.7" text-anchor="middle">genes</text>
</g>

<!-- caption -->
<g id="caption">
<text class="cap" x="36" y="476.5" font-weight="bold" font-size="12.5">Figure 7.</text>
<text class="cap" x="36" y="495" textLength="944" lengthAdjust="spacing">Intercellular communication between cells within the lung and the CD8<tspan font-size="7.5" dy="-4.5">+</tspan><tspan dy="4.5"> T cells instructed the T</tspan><tspan font-size="8.5" dy="2.5">RM</tspan><tspan dy="-2.5">-associated transcriptional program. Regulatory network of</tspan></text>
<text class="cap" x="36" y="513.5" textLength="944" lengthAdjust="spacing">tissue cells prioritized T<tspan font-size="8.5" dy="2.5">RM</tspan><tspan dy="-2.5"> cell–associated TFs in the lung harvested from day 2 post i.n. boosted group (</tspan><tspan font-weight="bold">A</tspan>) and single i.n. group (<tspan font-weight="bold">B</tspan>). T<tspan font-size="8.5" dy="2.5">RM</tspan><tspan dy="-2.5"> cell–related cellular</tspan></text>
<text class="cap" x="36" y="531" textLength="944" lengthAdjust="spacing">interactions are highlighted in red. The dot size for the sender cell reflects the number of ligand–receptor target pairs involved. The dot size for the target gene</text>
<text class="cap" x="36" y="548.5">reflects the number of regulated core residency genes.</text>
</g>
</svg>
